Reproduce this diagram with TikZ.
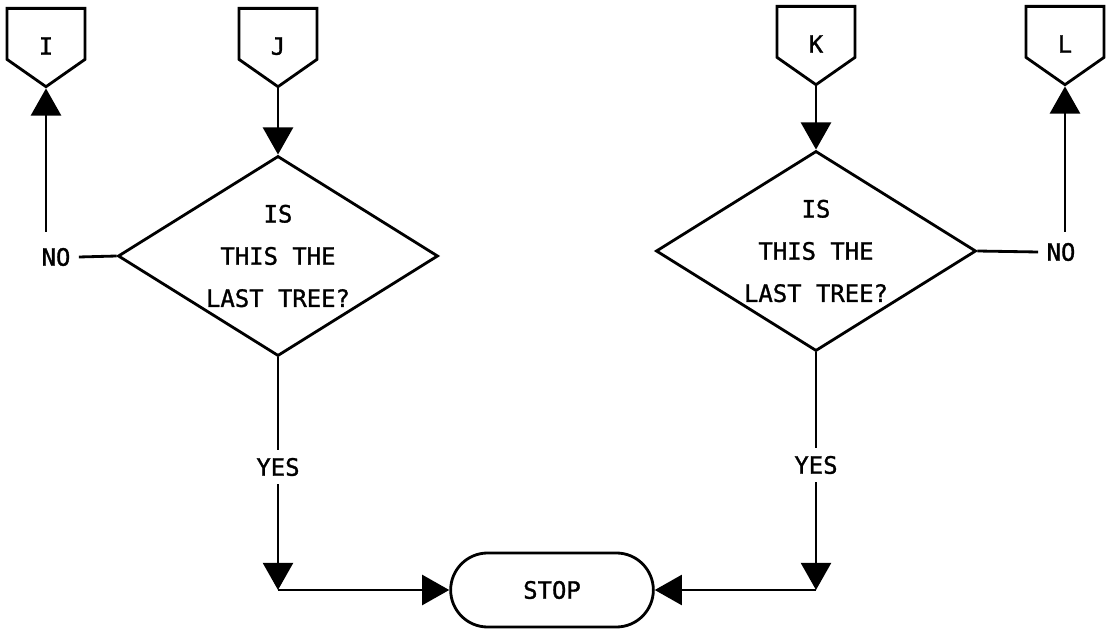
\documentclass[tikz,border=0pt]{standalone}
\usepackage{fontspec}
\newfontfamily\flowfont[FakeBold=1.2]{DejaVu Sans Mono}
\usetikzlibrary{shapes.geometric,shapes.symbols,shapes.misc,arrows.meta}
\begin{document}
\begin{tikzpicture}[x=0.025cm, y=-0.025cm, line width=2pt,
	font=\flowfont\fontsize{17}{30}\selectfont,
	offpage/.style={draw, shape=signal, signal to=south, signal from=nowhere,
		signal pointer angle=110, minimum width=1.95cm, minimum height=1.4cm,
		inner sep=0pt, text height=1.04cm, text depth=0pt, anchor=north},
	decision/.style={draw, diamond, aspect=1.6, minimum width=8cm,
		minimum height=5cm, inner sep=0pt, align=center},
	terminal/.style={draw, rounded rectangle, minimum width=5.3cm, minimum height=1.85cm},
	lbl/.style={inner sep=5pt},
	flow/.style={-{Triangle[width=0.75cm,length=0.68cm]}}]
	\useasboundingbox (0,0) rectangle (1107,630);
	\node[offpage] (I) at (46,7) {I};
	\node[offpage] (J) at (278,7) {J};
	\node[offpage] (K) at (816,5) {K};
	\node[offpage] (L) at (1065,5) {L};
	\node[decision] (dL) at (278,256) {IS\\THIS THE\\LAST TREE?};
	\node[decision] (dR) at (816,251) {IS\\THIS THE\\LAST TREE?};
	\node[lbl] (noL) at (56,257) {NO};
	\node[lbl] (noR) at (1061,252) {NO};
	\node[lbl] (yesL) at (278,467) {YES};
	\node[lbl] (yesR) at (816,465) {YES};
	\node[terminal] (stop) at (552,590) {STOP};
	\coordinate (upL) at (46,232);
	\coordinate (upR) at (1065,232);
	\coordinate (cL) at (278,590);
	\coordinate (cR) at (816,590);
	\draw[flow] (J.south) -- (dL.north);
	\draw[flow] (K.south) -- (dR.north);
	\draw (dL.west) -- (noL.east);
	\draw (dR.east) -- (noR.west);
	\draw[flow] (upL) -- (I.south);
	\draw[flow] (upR) -- (L.south);
	\draw (dL.south) -- (yesL.north);
	\draw (dR.south) -- (yesR.north);
	\draw[flow] (yesL.south) -- (cL);
	\draw[flow] (yesR.south) -- (cR);
	\draw[flow] (cL) -- (stop.west);
	\draw[flow] (cR) -- (stop.east);
\end{tikzpicture}
\end{document}
